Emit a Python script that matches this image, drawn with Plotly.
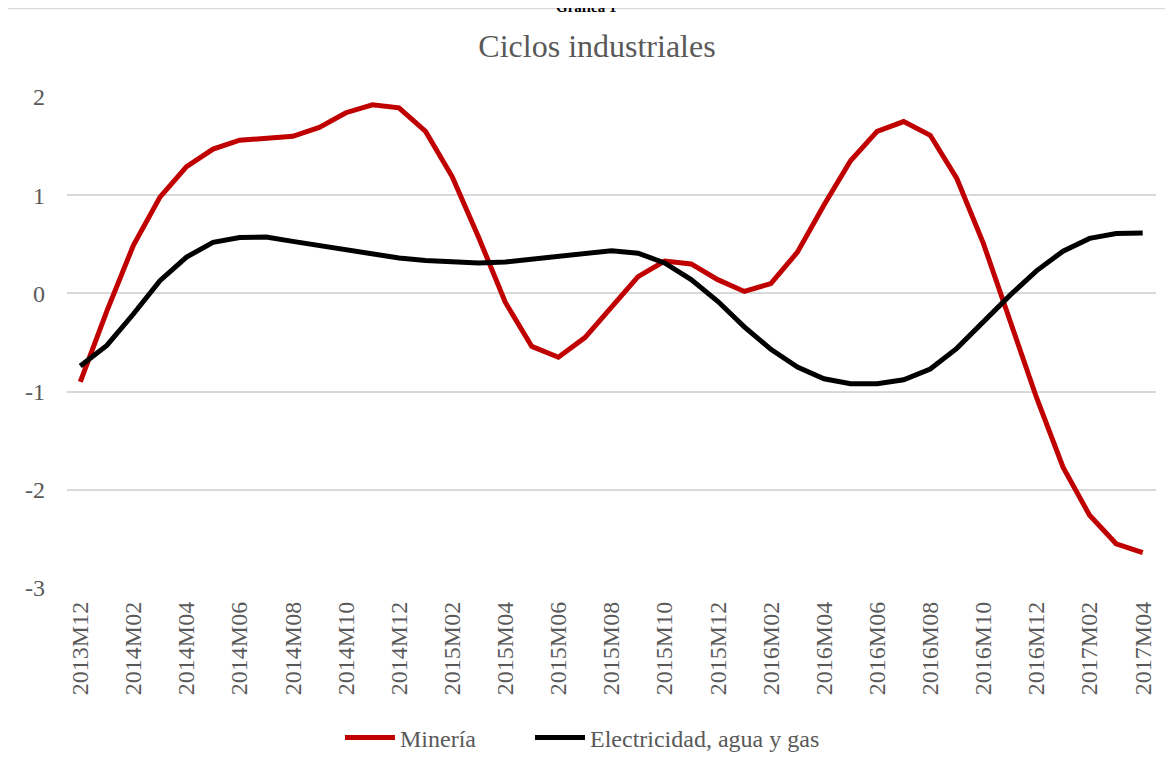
import plotly.graph_objects as go

months = [
    "2013M12",
    "2014M01", "2014M02", "2014M03", "2014M04", "2014M05", "2014M06",
    "2014M07", "2014M08", "2014M09", "2014M10", "2014M11", "2014M12",
    "2015M01", "2015M02", "2015M03", "2015M04", "2015M05", "2015M06",
    "2015M07", "2015M08", "2015M09", "2015M10", "2015M11", "2015M12",
    "2016M01", "2016M02", "2016M03", "2016M04", "2016M05", "2016M06",
    "2016M07", "2016M08", "2016M09", "2016M10", "2016M11", "2016M12",
    "2017M01", "2017M02", "2017M03", "2017M04",
]

mineria = [
    -0.90, -0.18, 0.49, 0.98, 1.29, 1.47, 1.56, 1.575, 1.60, 1.69, 1.84, 1.92, 1.89,
    1.65, 1.19, 0.57, -0.09, -0.54, -0.65, -0.45, -0.14, 0.17, 0.33, 0.30, 0.14,
    0.02, 0.10, 0.42, 0.90, 1.35, 1.65, 1.75, 1.61, 1.17, 0.51, -0.27, -1.06,
    -1.77, -2.26, -2.55, -2.64,
]

electricidad = [
    -0.74, -0.53, -0.21, 0.13, 0.37, 0.52, 0.57, 0.575, 0.53, 0.49, 0.44, 0.40, 0.36,
    0.336, 0.32, 0.31, 0.32, 0.35, 0.38, 0.41, 0.435, 0.41, 0.31, 0.14, -0.08,
    -0.34, -0.57, -0.75, -0.87, -0.92, -0.92, -0.88, -0.77, -0.56, -0.29, -0.02, 0.23,
    0.43, 0.56, 0.61, 0.614,
]

y_ticks = [-3, -2, -1, 0, 1, 2]
y_tick_text = ["-3", "-2", "-1", "0", "1", "2"]

series_names = ["Minería", "Electricidad, agua y gas"]
series_colors = ["#C00000", "#000000"]
title_text = "Ciclos industriales"
header_text = "Gráfica 1"

FONT = "Liberation Serif"
GRAY = "#595959"

# page body has an 8px margin; work in reference pixel coordinates
OFF = 8
W, H = 1173 - OFF, 772 - OFF
PL, PR, PT, PB = 67, 1156, 97, 588   # plot area in reference pixels
L, R, T, B = PL - OFF, W - (PR - OFF), PT - OFF, H - (PB - OFF)
pw, ph = W - L - R, H - T - B

def px_x(p):
    return (p - OFF - L) / pw

def px_y(p):
    return (H - B - (p - OFF)) / ph

legend_ids = ["legend", "legend2"]
legend_left = [340, 530]

fig = go.Figure()
for name, vals, col, lid in zip(series_names, [mineria, electricidad],
                                series_colors, legend_ids):
    fig.add_trace(go.Scatter(
        x=months, y=vals, mode="lines", name=name, legend=lid,
        line=dict(color=col, width=5),
    ))

def legend_cfg(xl):
    return dict(orientation="h", x=px_x(xl), xanchor="left", y=px_y(738),
                yanchor="middle", font=dict(family=FONT, size=24, color=GRAY),
                itemwidth=50, bgcolor="rgba(0,0,0,0)")

fig.update_layout(
    width=W, height=H,
    margin=dict(l=L, r=R, t=T, b=B, autoexpand=False),
    paper_bgcolor="white", plot_bgcolor="white",
    font=dict(family=FONT, color=GRAY, size=22),
    title=dict(text=title_text, x=(597 - OFF) / W, xanchor="center",
               y=1 - (46 - OFF) / H, yanchor="middle",
               font=dict(family=FONT, size=32, color=GRAY)),
    showlegend=True,
    legend=legend_cfg(legend_left[0]),
    legend2=legend_cfg(legend_left[1]),
    xaxis=dict(
        type="category", categoryorder="array", categoryarray=months,
        range=[-0.5, len(months) - 0.5],
        tickmode="array", tickvals=months[::2], ticktext=months[::2],
        tickangle=-90, showgrid=False, zeroline=False, showline=False,
        ticks="", ticklabelstandoff=8, automargin=False,
        tickfont=dict(family=FONT, size=24, color=GRAY),
    ),
    yaxis=dict(
        range=[-3, 2], tickmode="array", tickvals=y_ticks, ticktext=y_tick_text,
        showgrid=True, gridcolor="#d9d9d9",
        gridwidth=1.5, zeroline=False, showline=False, ticks="",
        ticklabelstandoff=21, automargin=False,
        tickfont=dict(family=FONT, size=24, color=GRAY),
    ),
    shapes=[dict(type="rect", xref="paper", yref="paper",
                 x0=px_x(3), x1=px_x(1185), y0=px_y(790), y1=px_y(8.5),
                 line=dict(color="#d9d9d9", width=1.5), layer="below")],
    annotations=[dict(text="<b>" + header_text + "</b>", xref="paper", yref="paper",
                      x=px_x(586), y=px_y(7), xanchor="center", yanchor="middle",
                      showarrow=False, font=dict(family=FONT, size=15, color="#000000"))],
)

fig.write_html("out.html")
